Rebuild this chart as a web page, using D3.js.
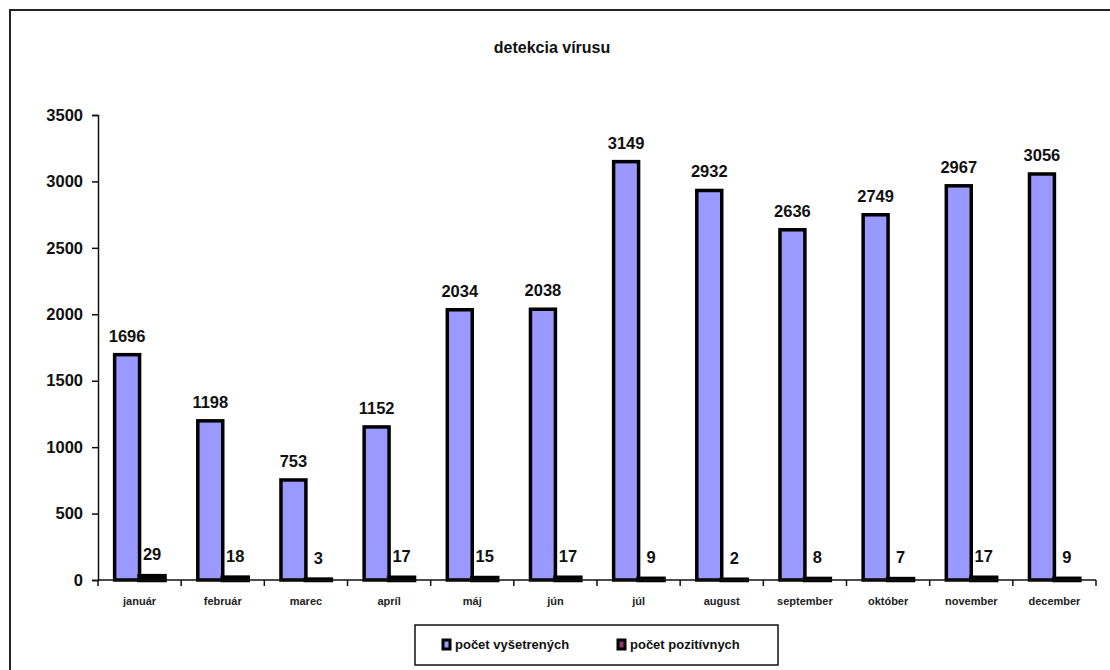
<!DOCTYPE html>
<html><head><meta charset="utf-8">
<script src="https://cdn.jsdelivr.net/npm/d3@7"></script>
<style>body{margin:0;background:#fff}svg{display:block}text{font-family:"Liberation Sans",Arial,sans-serif}</style>
</head><body><svg id="c" width="1110" height="670"></svg>
<script>
const title = "detekcia vírusu";
const categories = ["január","február","marec","apríl","máj","jún","júl","august","september","október","november","december"];
const seriesNames = ["počet vyšetrených","počet pozitívnych"];
const vysetrenych = [1696,1198,753,1152,2034,2038,3149,2932,2636,2749,2967,3056];
const pozitivnych = [29,18,3,17,15,17,9,2,8,7,17,9];
const yTicks = [0,500,1000,1500,2000,2500,3000,3500];
const colors = ["#9999ff","#993366"];

const svg = d3.select("#c");
svg.append("rect").attr("x",10).attr("y",10).attr("width",1120).attr("height",700)
  .attr("fill","#fff").attr("stroke","#222").attr("stroke-width",2);

const x0 = 98, x1 = 1096, yTop = 115, yBot = 580;
const x = d3.scaleBand().domain(categories).range([x0,x1]);
const y = d3.scaleLinear().domain([0,3500]).range([yBot,yTop]);
const bw = x.bandwidth()*0.3;

svg.append("text").attr("x",552).attr("y",53).attr("text-anchor","middle")
  .attr("font-size",16).attr("font-weight","bold").attr("fill","#111").text(title);

// y axis
const ya = svg.append("g").attr("transform",`translate(${x0},0)`)
  .call(d3.axisLeft(y).tickValues(yTicks).tickSize(6).tickPadding(9).tickFormat(d3.format("d")));
ya.select(".domain").attr("stroke","#111").attr("stroke-width",1.5);
ya.selectAll(".tick line").attr("stroke","#111").attr("stroke-width",1.5);
ya.selectAll("text").attr("font-size",16.5).attr("font-weight","bold").attr("fill","#111").attr("font-family","Liberation Sans, Arial");

// bars
const data = categories.map((c,i)=>({c,v:[vysetrenych[i],pozitivnych[i]]}));
const g = svg.append("g");
data.forEach(d=>{
  const cx = x(d.c)+x.bandwidth()/2;
  d.v.forEach((v,j)=>{
    const bx = cx - bw + j*bw;
    g.append("rect").attr("x",bx).attr("y",y(v)).attr("width",bw).attr("height",yBot-y(v))
      .attr("fill",colors[j]).attr("stroke","#000").attr("stroke-width",j==0?3.5:4.5);
    g.append("text").attr("x",bx+bw/2).attr("y",y(v)-(j==0?13:16)).attr("text-anchor","middle")
      .attr("font-size",16.5).attr("font-weight","bold").attr("fill","#111").text(v);
  });
});

// x axis
const xa = svg.append("g").attr("transform",`translate(0,${yBot})`);
xa.append("line").attr("x1",x0).attr("x2",x1).attr("stroke","#111").attr("stroke-width",1.5);
categories.concat([null]).forEach((c,i)=>{
  const px = c===null? x1 : x(c);
  xa.append("line").attr("x1",px).attr("x2",px).attr("y1",0).attr("y2",6).attr("stroke","#111").attr("stroke-width",1.5);
});
categories.forEach(c=>{
  xa.append("text").attr("x",x(c)+x.bandwidth()/2).attr("y",25).attr("text-anchor","middle")
    .attr("font-size",11).attr("font-weight","bold").attr("fill","#222").text(c);
});

// legend
const lg = svg.append("g");
lg.append("rect").attr("x",415).attr("y",625).attr("width",363).attr("height",40)
  .attr("fill","#fff").attr("stroke","#111").attr("stroke-width",1.5);
const lx = [443,618];
seriesNames.forEach((s,j)=>{
  lg.append("rect").attr("x",lx[j]).attr("y",640).attr("width",7).attr("height",9)
    .attr("fill",colors[j]).attr("stroke","#000").attr("stroke-width",3);
  lg.append("text").attr("x",lx[j]+12).attr("y",649).attr("font-size",13).attr("font-weight","bold")
    .attr("fill","#111").text(s);
});
</script></body></html>
